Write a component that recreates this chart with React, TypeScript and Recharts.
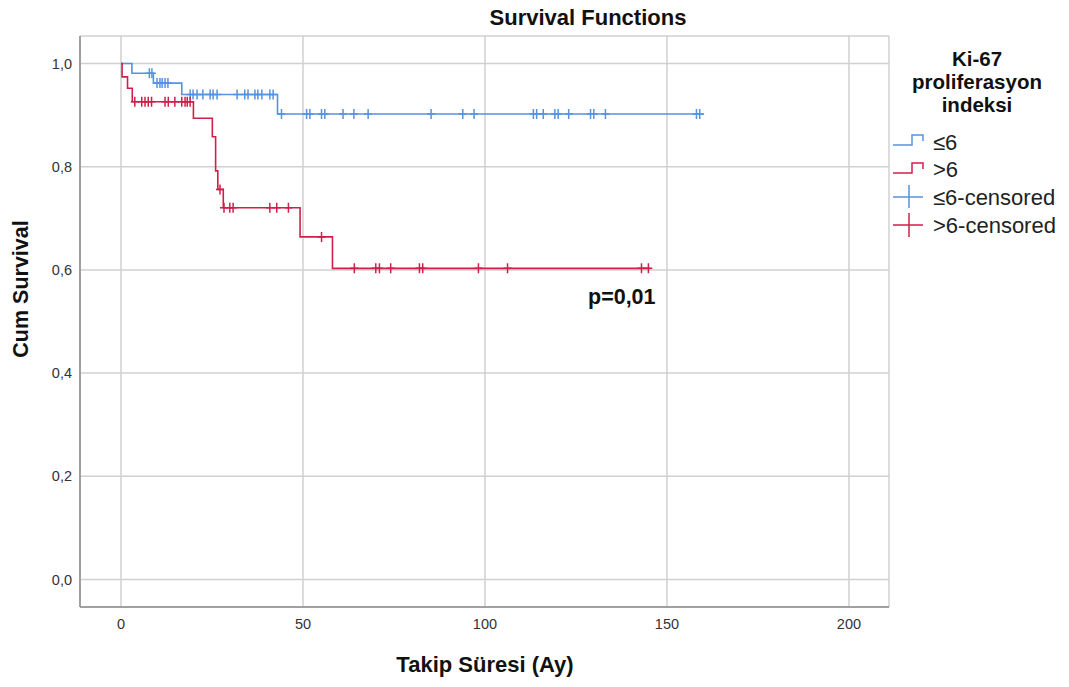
import React from 'react';
import { ComposedChart, Line, Scatter, XAxis, YAxis, CartesianGrid } from 'recharts';

// Kaplan-Meier steps: [time (months), survival after event]
const lowEvents: [number, number][] = [
  [3.0, 0.981],
  [8.9, 0.962],
  [16.7, 0.94],
  [43.0, 0.902],
];
const lowEnd = 160.2;
const lowCensored = [
  7.8, 8.5,
  9.9, 10.7, 11.3, 12.1, 12.9,
  19.0, 19.8, 20.9, 22.5, 24.5, 25.3, 26.4, 31.9, 34.0, 34.9, 36.8, 37.6, 38.7, 40.9, 41.8,
  44.1, 51.0, 51.9, 55.1, 56.0, 61.0, 64.0, 67.9, 85.2, 93.9, 97.0, 113.3, 114.2, 116.0,
  119.2, 120.1, 123.0, 129.0, 129.9, 133.1, 158.1, 159.0,
];

const highEvents: [number, number][] = [
  [0.3, 0.974],
  [1.8, 0.952],
  [3.1, 0.926],
  [19.9, 0.894],
  [25.1, 0.858],
  [26.0, 0.792],
  [26.6, 0.756],
  [28.1, 0.7205],
  [49.2, 0.664],
  [58.1, 0.603],
];
const highEnd = 145.3;
const highCensored = [
  3.8, 5.7, 6.6, 7.5, 8.4, 12.1, 13.0, 14.8, 16.7, 17.6, 18.2, 19.0,
  27.2,
  28.3, 29.9, 30.8, 40.9, 42.8, 46.0,
  55.1,
  64.1, 70.0, 71.0, 74.1, 82.0, 82.9, 98.2, 106.2, 143.0, 144.9,
];

const xTicks = [0, 50, 100, 150, 200];
const yTicks = [0, 0.2, 0.4, 0.6, 0.8, 1.0];

const BLUE = '#5592e0';
const RED = '#d21e4b';
const FONT = '"Liberation Sans", Arial, sans-serif';

const toCurve = (events: [number, number][], end: number) => {
  const pts = [{ t: 0, s: 1 }, ...events.map(([t, s]) => ({ t, s }))];
  pts.push({ t: end, s: events[events.length - 1][1] });
  return pts;
};

const survivalAt = (events: [number, number][], t: number) => {
  let s = 1;
  for (const [et, es] of events) if (et <= t) s = es;
  return s;
};

const lowCurve = toCurve(lowEvents, lowEnd);
const highCurve = toCurve(highEvents, highEnd);
const lowMarks = lowCensored.map((t) => ({ t, s: survivalAt(lowEvents, t) }));
const highMarks = highCensored.map((t) => ({ t, s: survivalAt(highEvents, t) }));

const censorShape = (color: string) => (props: any) => {
  const { cx, cy } = props;
  if (cx == null || cy == null) return <g />;
  return (
    <path
      d={`M${cx - 4},${cy}H${cx + 4}M${cx},${cy - 5}V${cy + 5}`}
      stroke={color}
      strokeWidth={1.5}
      fill="none"
    />
  );
};

const fmt = (v: number) => v.toFixed(1).replace('.', ',');

export default function App() {
  return (
    <div style={{ position: 'absolute', left: 0, top: 0, width: 1069, height: 687, background: '#fff', fontFamily: FONT }}>
      <ComposedChart width={1069} height={687} margin={{ top: 36, right: 180, bottom: 0, left: 0 }}>
        <CartesianGrid stroke="#d0d0d0" strokeWidth={1.5} />
        <XAxis
          type="number"
          dataKey="t"
          domain={[-11.26, 211]}
          ticks={xTicks}
          allowDataOverflow
          height={80}
          tickLine={false}
          tickMargin={6}
          axisLine={{ stroke: '#8c8c8c', strokeWidth: 1.5 }}
          tick={{ fill: '#333', fontSize: 14.5, fontFamily: FONT }}
        />
        <YAxis
          type="number"
          dataKey="s"
          domain={[-0.0533, 1.0533]}
          ticks={yTicks}
          allowDataOverflow
          width={80}
          tickLine={false}
          tickFormatter={fmt}
          axisLine={{ stroke: '#8c8c8c', strokeWidth: 1.5 }}
          tick={{ fill: '#333', fontSize: 14.5, fontFamily: FONT }}
        />
        <Line data={lowCurve} dataKey="s" type="stepAfter" stroke={BLUE} strokeWidth={1.6} dot={false} isAnimationActive={false} />
        <Line data={highCurve} dataKey="s" type="stepAfter" stroke={RED} strokeWidth={1.6} dot={false} isAnimationActive={false} />
        <Scatter data={lowMarks} dataKey="s" shape={censorShape(BLUE)} isAnimationActive={false} />
        <Scatter data={highMarks} dataKey="s" shape={censorShape(RED)} isAnimationActive={false} />
      </ComposedChart>

      <svg width={1069} height={687} style={{ position: 'absolute', left: 0, top: 0, pointerEvents: 'none' }} fontFamily={FONT}>
        <text x={588} y={25} textAnchor="middle" fontSize={22} fontWeight="bold" fill="#111">Survival Functions</text>
        <text x={485} y={672} textAnchor="middle" fontSize={22} fontWeight="bold" fill="#111">Takip Süresi (Ay)</text>
        <text transform="translate(28,289) rotate(-90)" textAnchor="middle" fontSize={21.5} fontWeight="bold" fill="#111">Cum Survival</text>
        <text x={588} y={304} fontSize={21.5} fontWeight="bold" fill="#111">p=0,01</text>

        <g fontSize={20.5} fontWeight="bold" fill="#111" textAnchor="middle">
          <text x={977} y={65.5}>Ki-67</text>
          <text x={977} y={88.5}>proliferasyon</text>
          <text x={977} y={111.5}>indeksi</text>
        </g>
        <path d="M893,145H912V135H923V141" stroke={BLUE} strokeWidth={1.5} fill="none" />
        <path d="M893,173H912V163H923V169" stroke={RED} strokeWidth={1.5} fill="none" />
        <path d="M893,197H923M909,185V208" stroke={BLUE} strokeWidth={1.5} fill="none" />
        <path d="M893,225H923M909,213V237" stroke={RED} strokeWidth={1.5} fill="none" />
        <g fontSize={22} fill="#222">
          <text x={933} y={150}>≤6</text>
          <text x={933} y={177}>&gt;6</text>
          <text x={933} y={205}>≤6-censored</text>
          <text x={933} y={233}>&gt;6-censored</text>
        </g>
      </svg>
    </div>
  );
}
